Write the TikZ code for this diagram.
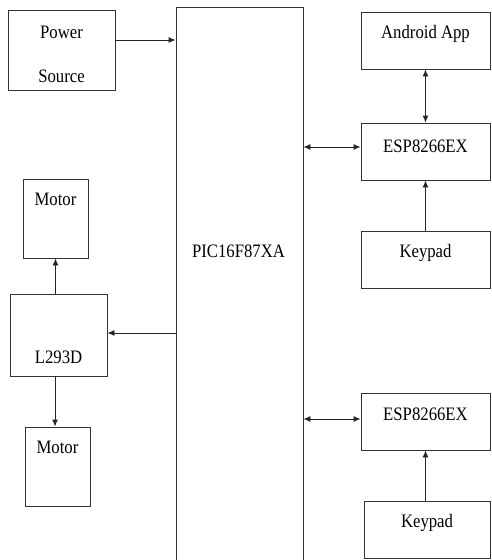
\documentclass[tikz,border=0pt]{standalone}
\usepackage{fontspec}
\setmainfont{Liberation Serif}[FakeStretch=0.88]
\usetikzlibrary{arrows.meta,positioning}

\begin{document}
\begin{tikzpicture}[
  x=1pt, y=-1pt,
  font=\fontsize{19}{22}\selectfont,
  box/.style={draw=black!80, line width=0.9pt, inner sep=0pt},
  lbl/.style={anchor=base, inner sep=0pt},
  arrow/.style={-{Latex[length=7pt,width=6pt]}, line width=0.9pt, black!85},
  biarrow/.style={{Latex[length=7pt,width=6pt]}-{Latex[length=7pt,width=6pt]}, line width=0.9pt, black!85}
]
\useasboundingbox (0,0) rectangle (491,560);

\node[box, minimum width=107pt, minimum height=80pt] (power) at (61.5,50) {};
\node[box, minimum width=127pt, minimum height=600pt] (pic) at (239.5,307.5) {};
\node[box, minimum width=129pt, minimum height=57pt] (android) at (425.5,40.5) {};
\node[box, minimum width=129pt, minimum height=57pt] (esp1) at (425.5,151.5) {};
\node[box, minimum width=129pt, minimum height=57pt] (key1) at (425.5,259.5) {};
\node[box, minimum width=129pt, minimum height=57pt] (esp2) at (425.5,421.5) {};
\node[box, minimum width=126pt, minimum height=57pt] (key2) at (427,529.5) {};
\node[box, minimum width=65pt, minimum height=79pt] (motor1) at (55.5,218.5) {};
\node[box, minimum width=97pt, minimum height=82pt] (l293) at (58.5,335) {};
\node[box, minimum width=65pt, minimum height=79pt] (motor2) at (57.5,466.5) {};

\node[lbl] (powertxt) at (power |- 0,38) {Power};
\node[lbl] (sourcetxt) at (power |- 0,82) {Source};
\node[lbl] (pictxt) at (238.5,257) {PIC16F87XA};
\node[lbl] (androidtxt) at (android |- 0,38) {Android App};
\node[lbl] (esp1txt) at (esp1 |- 0,152) {ESP8266EX};
\node[lbl] (key1txt) at (key1 |- 0,257) {Keypad};
\node[lbl] (esp2txt) at (esp2 |- 0,420) {ESP8266EX};
\node[lbl] (key2txt) at (key2 |- 0,527) {Keypad};
\node[lbl] (motor1txt) at (motor1 |- 0,205) {Motor};
\node[lbl] (l293txt) at (l293 |- 0,363) {L293D};
\node[lbl] (motor2txt) at (motor2 |- 0,453) {Motor};

\draw[arrow] ([yshift=10pt]power.east) -- ([yshift=10pt]power.east -| pic.west);
\draw[biarrow] ([yshift=4.5pt]esp1.west -| pic.east) -- ([yshift=4.5pt]esp1.west);
\draw[biarrow] (android.south) -- (esp1.north);
\draw[arrow] (key1.north) -- (esp1.south);
\draw[biarrow] ([yshift=2.5pt]esp2.west -| pic.east) -- ([yshift=2.5pt]esp2.west);
\draw[arrow] (esp2.south |- key2.north) -- (esp2.south);
\draw[arrow] ([yshift=2pt]l293.east -| pic.west) -- ([yshift=2pt]l293.east);
\draw[arrow] (motor1.south |- l293.north) -- (motor1.south);
\draw[arrow] ([xshift=-3.5pt]l293.south) -- ([xshift=-3.5pt]l293.south |- motor2.north);
\end{tikzpicture}
\end{document}
